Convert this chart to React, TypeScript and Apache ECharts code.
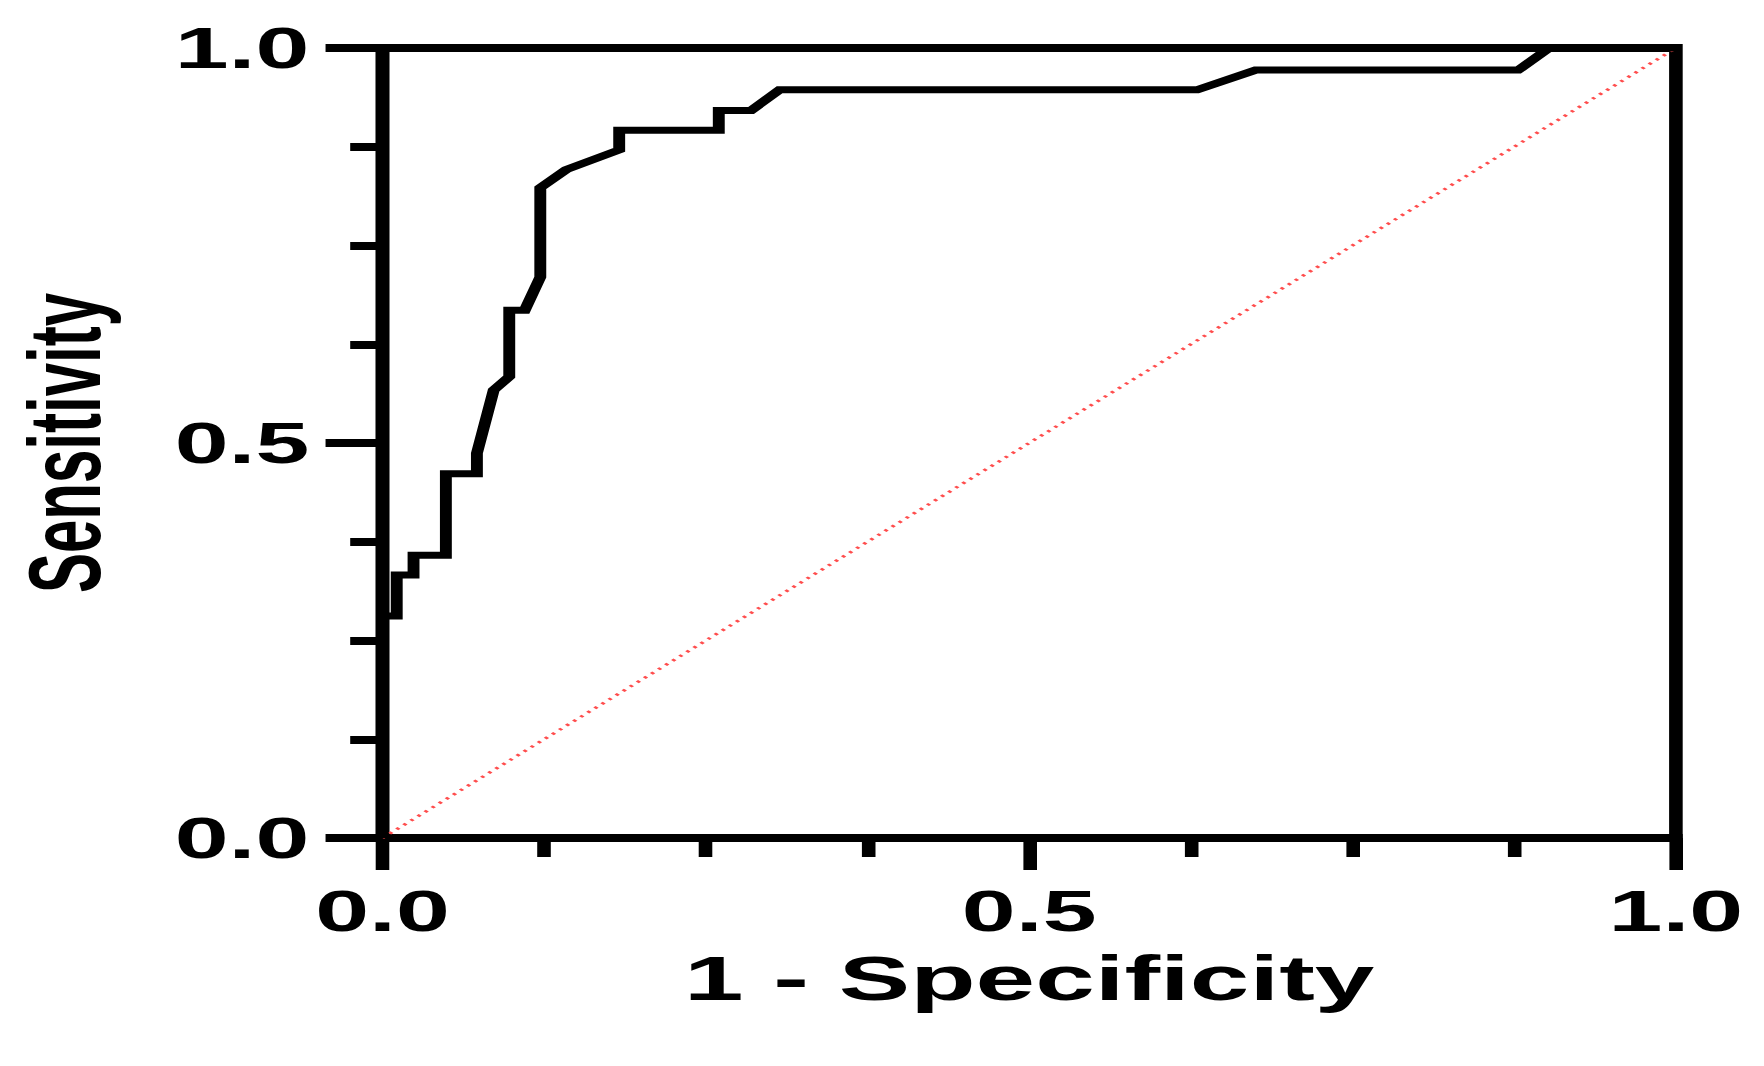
import React, { useEffect, useRef } from "react";
import * as echarts from "echarts";

// ROC curve points (1 - Specificity, Sensitivity)
const fpr = [
  0, 0, 0.011, 0.011, 0.024, 0.024, 0.049, 0.049, 0.073, 0.073, 0.086, 0.098, 0.098,
  0.11, 0.122, 0.122, 0.142, 0.183, 0.183, 0.26, 0.26, 0.285, 0.307, 0.63, 0.675,
  0.878, 0.902, 1,
];
const tpr = [
  0, 0.281, 0.281, 0.333, 0.333, 0.358, 0.358, 0.461, 0.461, 0.487, 0.567, 0.584, 0.668,
  0.668, 0.71, 0.823, 0.846, 0.871, 0.896, 0.896, 0.921, 0.921, 0.947, 0.947, 0.972,
  0.972, 1, 1,
];
// Reference (chance) line
const refX = [0, 1];
const refY = [0, 1];

const xTitle = "1 - Specificity";
const yTitle = "Sensitivity";

const STRETCH = 1.7;
const PAGE_W = 1764;
const PAGE_H = 1066;
const CHART_W = Math.floor(PAGE_W / STRETCH);

const FONT = "'Liberation Sans', Arial, Helvetica, sans-serif";

export default function App() {
  const ref = useRef<HTMLDivElement>(null);

  useEffect(() => {
    if (!ref.current) return;
    const chart = echarts.init(ref.current, null, {
      renderer: "svg",
      width: CHART_W,
      height: PAGE_H,
    });

    const rocData = fpr.map((x, i) => [x, tpr[i]]);
    const refData = refX.map((x, i) => [x, refY[i]]);

    const axisCommon = {
      type: "value",
      min: 0,
      max: 1,
      interval: 0.5,
      splitLine: { show: false },
      minorSplitLine: { show: false },
      axisLine: { show: true, lineStyle: { color: "#000", width: 8, cap: "square" } },
      axisLabel: {
        color: "#000",
        fontFamily: FONT,
        fontWeight: "bold",
        fontSize: 57,
        formatter: (v: number) => v.toFixed(1),
      },
    };

    chart.setOption({
      animation: false,
      backgroundColor: "#fff",
      grid: {
        left: 380 / STRETCH,
        right: (PAGE_W - 1677) / STRETCH,
        top: 48,
        bottom: PAGE_H - 838,
        show: true,
        borderColor: "#000",
        borderWidth: 8,
        backgroundColor: "transparent",
      },
      xAxis: {
        ...axisCommon,
        name: xTitle,
        nameLocation: "middle",
        nameGap: 109,
        nameTextStyle: {
          color: "#000",
          fontFamily: FONT,
          fontWeight: "bold",
          fontSize: 63,
        },
        axisTick: { show: true, length: 32, lineStyle: { color: "#000", width: 8 } },
        minorTick: { show: true, splitNumber: 4, length: 19, lineStyle: { color: "#000", width: 8 } },
        axisLabel: { ...axisCommon.axisLabel, margin: 45 },
      },
      yAxis: {
        ...axisCommon,
        name: yTitle,
        nameLocation: "middle",
        nameGap: 157,
        nameTextStyle: {
          color: "#000",
          fontFamily: FONT,
          fontWeight: "bold",
          fontSize: 60,
        },
        axisTick: { show: true, length: 33.5, lineStyle: { color: "#000", width: 8 } },
        minorTick: { show: true, splitNumber: 4, length: 19, lineStyle: { color: "#000", width: 8 } },
        axisLabel: { ...axisCommon.axisLabel, margin: 43 },
      },
      series: [
        {
          type: "line",
          data: refData,
          symbol: "none",
          z: 2,
          lineStyle: { color: "#ff4d4d", width: 2.5, type: [2, 4] },
        },
        {
          type: "line",
          data: rocData,
          symbol: "none",
          z: 3,
          clip: false,
          lineStyle: { color: "#000", width: 7, join: "miter" },
        },
      ],
    });

    return () => chart.dispose();
  }, []);

  return (
    <div
      style={{
        position: "fixed",
        left: 0,
        top: 0,
        width: PAGE_W,
        height: PAGE_H,
        overflow: "hidden",
        background: "#fff",
      }}
    >
      <div
        ref={ref}
        style={{
          width: CHART_W,
          height: PAGE_H,
          transform: `scaleX(${STRETCH})`,
          transformOrigin: "0 0",
        }}
      />
    </div>
  );
}
